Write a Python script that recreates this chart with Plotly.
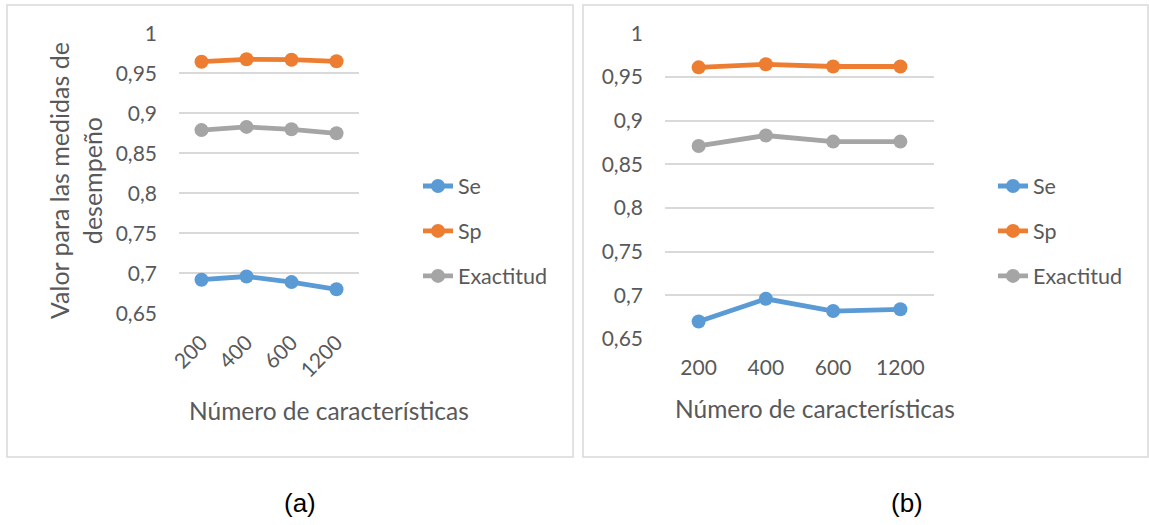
import plotly.graph_objects as go

W, H = 1149, 525

categories = ["200", "400", "600", "1200"]
series_names = ["Se", "Sp", "Exactitud"]
series_colors = ["#5B9BD5", "#ED7D31", "#A5A5A5"]

a_se = [0.692, 0.696, 0.689, 0.680]
a_sp = [0.9645, 0.9675, 0.967, 0.965]
a_ex = [0.879, 0.883, 0.880, 0.875]

b_se = [0.670, 0.696, 0.682, 0.684]
b_sp = [0.961, 0.9645, 0.962, 0.962]
b_ex = [0.871, 0.883, 0.876, 0.876]

panel_labels = ["(a)", "(b)"]
x_title = "Número de características"
y_title = "Valor para las medidas de<br>desempeño"

TXT = "#595959"
GRID = "#d9d9d9"
FONT = "Lato"


def px(x):
    return x / W


def py(y):
    return 1 - y / H


fig = go.Figure()

panels = [
    ("a", "x", "y", "legend", [a_se, a_sp, a_ex]),
    ("b", "x2", "y2", "legend2", [b_se, b_sp, b_ex]),
]
for key, xa, ya, leg, data in panels:
    for name, color, vals in zip(series_names, series_colors, data):
        fig.add_trace(go.Scatter(
            x=categories, y=vals, name=name, mode="lines+markers",
            line=dict(color=color, width=4.8),
            marker=dict(color=color, size=14),
            xaxis=xa, yaxis=ya, legend=leg, legendgroup=key + name,
        ))

xcommon = dict(type="category", range=[-0.5, 3.5], showgrid=False, showline=False,
               zeroline=False, ticks="", tickfont=dict(size=21, color=TXT, family=FONT))
ycommon = dict(range=[0.65, 1.0], dtick=0.05, tick0=0.65, showgrid=True, gridcolor=GRID,
               gridwidth=1.5, zeroline=False, showline=False, ticks="",
               tickfont=dict(size=21, color=TXT, family=FONT), ticklabelstandoff=21)

legcommon = dict(yanchor="middle", xanchor="left", font=dict(size=21.5, color=TXT, family=FONT),
                 tracegroupgap=14, bgcolor="rgba(0,0,0,0)", itemwidth=30)

fig.update_layout(
    width=W, height=H,
    margin=dict(l=0, r=0, t=0, b=0, pad=0, autoexpand=False),
    paper_bgcolor="white", plot_bgcolor="white",
    separators=",.",
    font=dict(family=FONT, color=TXT),
    xaxis=dict(domain=[px(179), px(359)], anchor="y", tickangle=-45, ticklabelstandoff=12, **xcommon),
    yaxis=dict(domain=[py(313.3), py(33.3)], anchor="x", **ycommon),
    xaxis2=dict(domain=[px(665), px(934)], anchor="y2", ticklabelstandoff=14, **xcommon),
    yaxis2=dict(domain=[py(339), py(33.3)], anchor="x2", **ycommon),
    legend=dict(x=px(418), y=py(231), **legcommon),
    legend2=dict(x=px(993), y=py(231), **legcommon),
    showlegend=True,
)

annotations = [
    dict(text=y_title, x=px(75), y=py(181), textangle=-90, font=dict(size=25, color=TXT, family=FONT)),
    dict(text=x_title, x=px(329), y=py(410), font=dict(size=24.5, color=TXT, family=FONT)),
    dict(text=x_title, x=px(815), y=py(408), font=dict(size=24.5, color=TXT, family=FONT)),
    dict(text=panel_labels[0], x=px(300), y=py(503), font=dict(size=26, color="black", family="Liberation Sans")),
    dict(text=panel_labels[1], x=px(907), y=py(503), font=dict(size=26, color="black", family="Liberation Sans")),
]
for a in annotations:
    fig.add_annotation(xref="paper", yref="paper", showarrow=False, xanchor="center", yanchor="middle", **a)

for x0, x1 in [(7, 573), (583, 1148)]:
    fig.add_shape(type="rect", xref="paper", yref="paper", x0=px(x0), x1=px(x1), y0=py(457), y1=py(5),
                  line=dict(color=GRID, width=1.5), fillcolor="rgba(0,0,0,0)", layer="below")

fig.write_html("out.html", config={"displayModeBar": False},
               post_script="document.body.style.margin='0';document.body.style.overflow='hidden';")
